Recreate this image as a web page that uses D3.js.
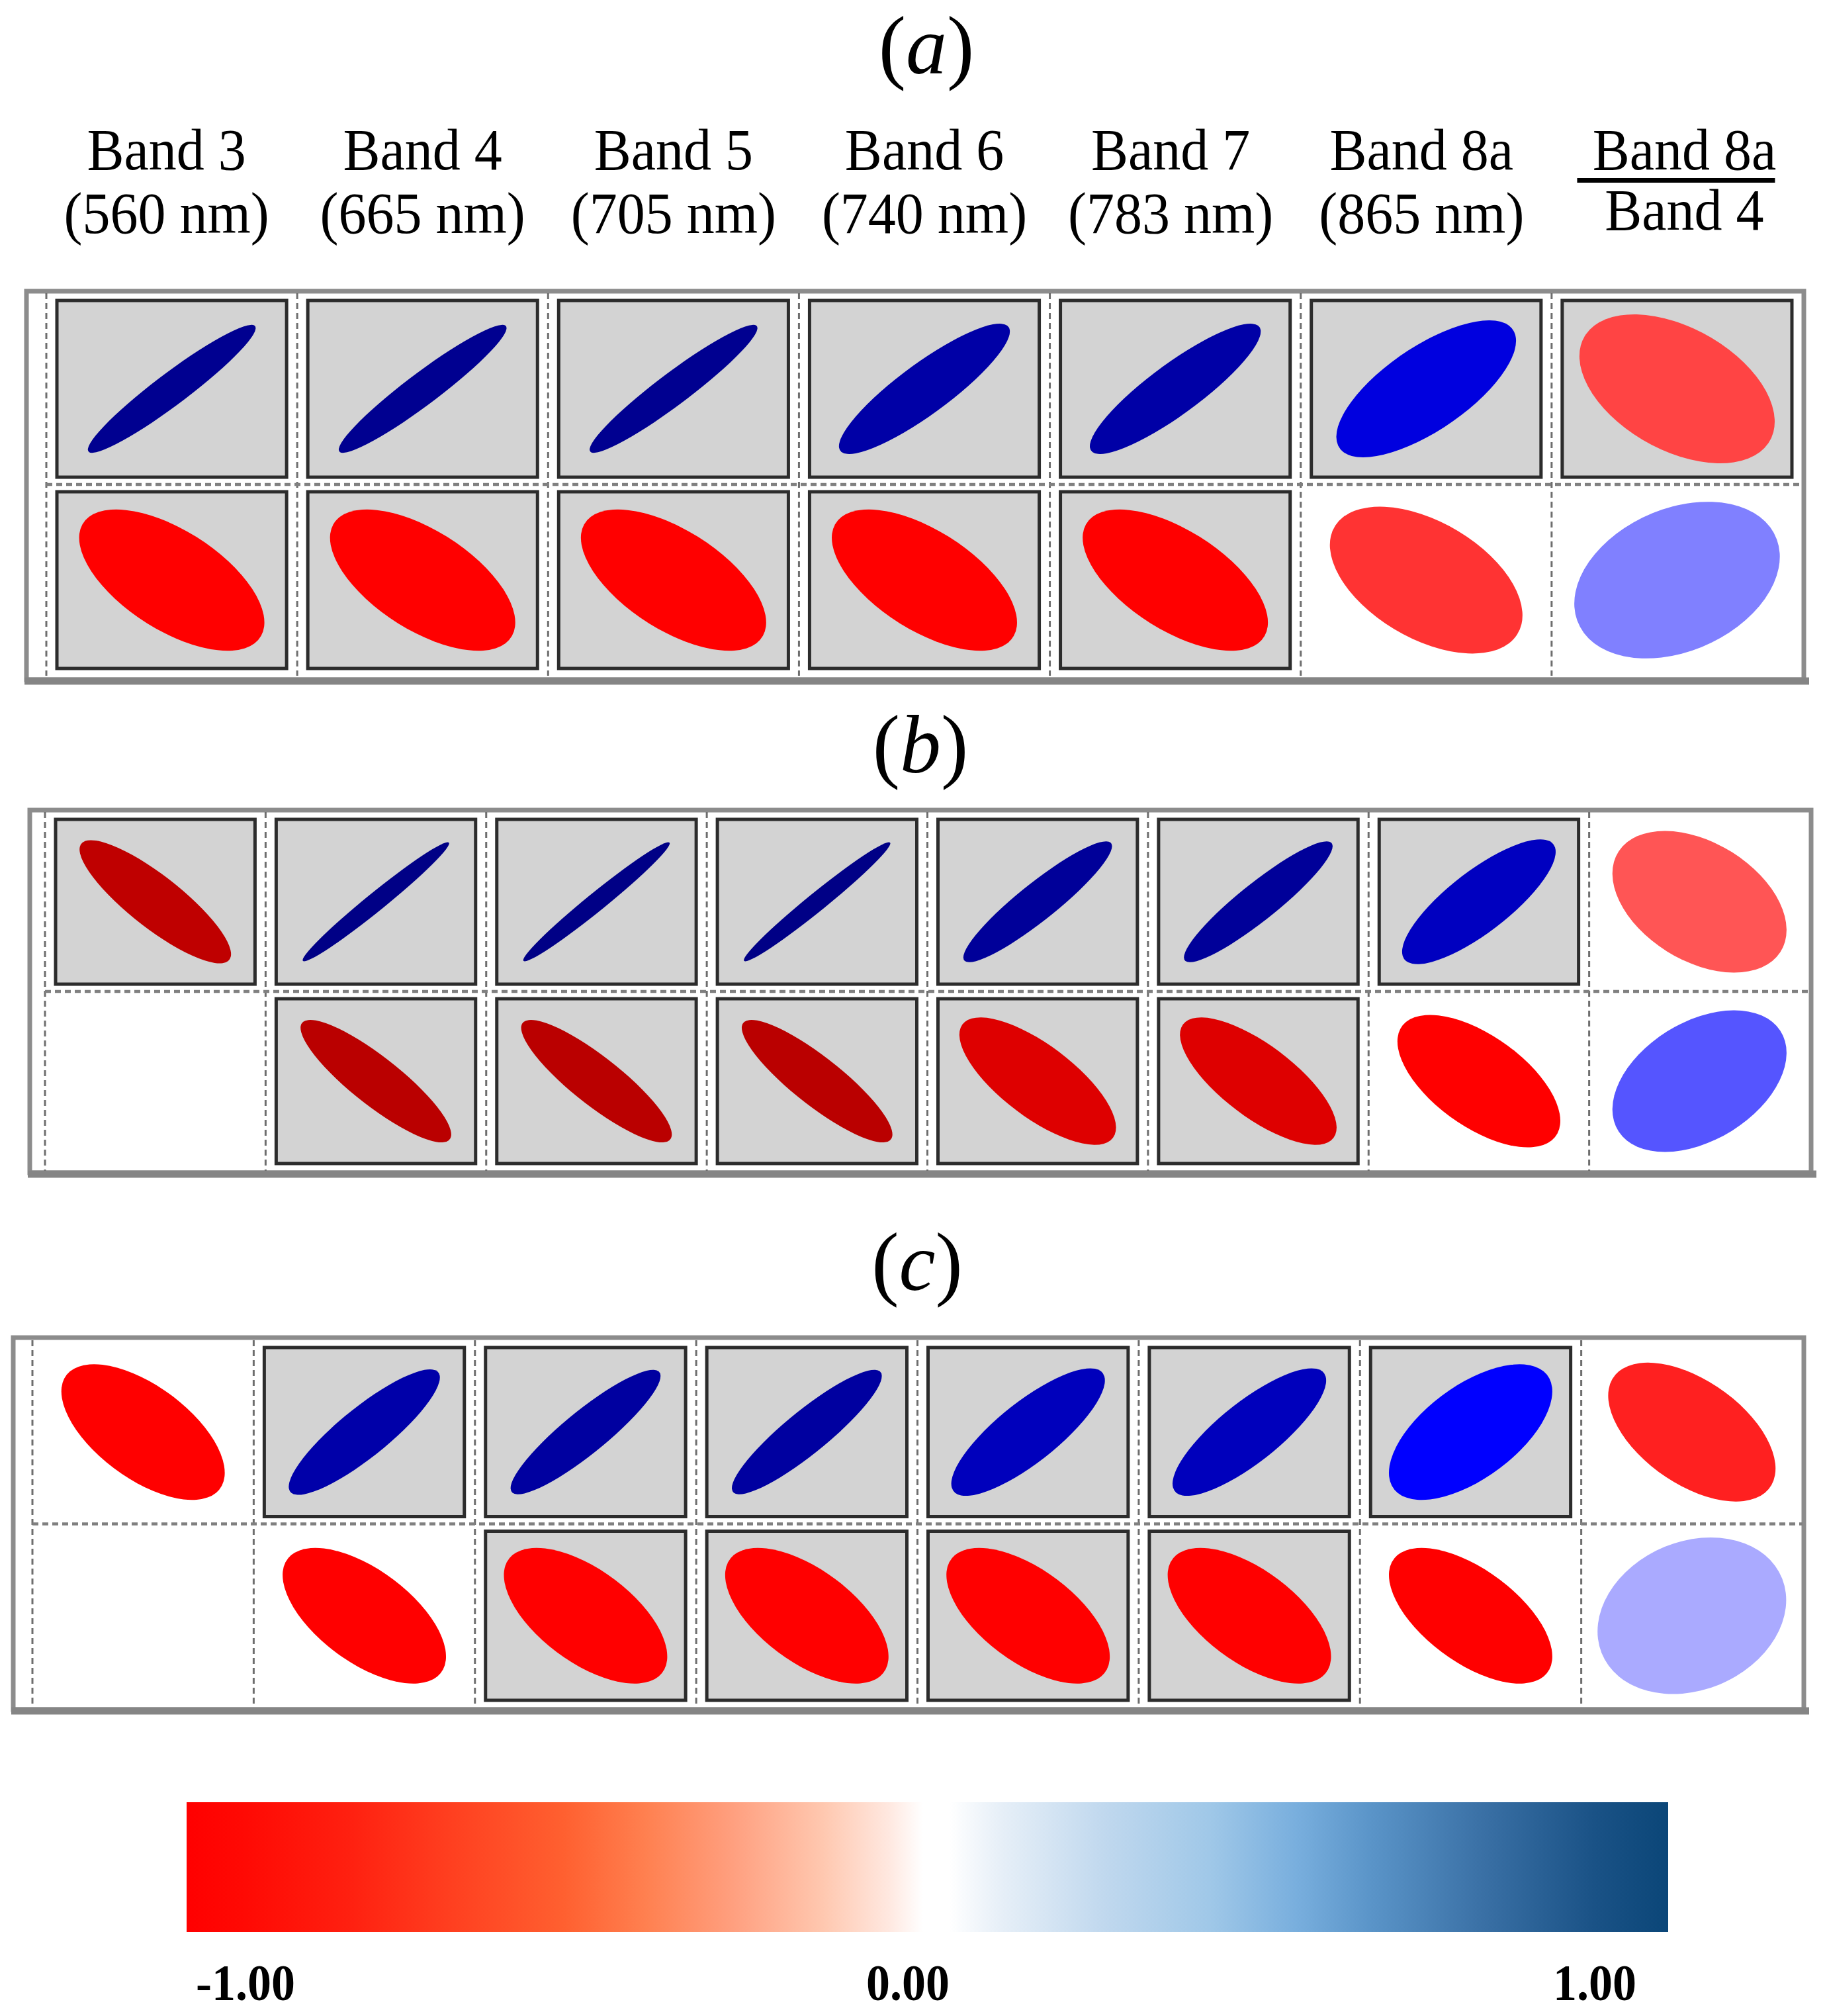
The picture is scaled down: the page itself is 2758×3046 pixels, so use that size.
<!DOCTYPE html>
<html><head><meta charset="utf-8">
<script src="https://cdn.jsdelivr.net/npm/d3@7"></script>
<style>body{margin:0;background:#fff}svg{display:block}</style>
</head><body>
<script>
// ---------------- DATA ----------------
const bandNames   = ["Band 3","Band 4","Band 5","Band 6","Band 7","Band 8a"];
const wavelengths = ["(560 nm)","(665 nm)","(705 nm)","(740 nm)","(783 nm)","(865 nm)"];
const ratioLabel  = ["Band 8a","Band 4"];
const panelLabels = ["a","b","c"];

const aRow1 = [0.95, 0.95, 0.95, 0.88, 0.88, 0.70, -0.44];
const aRow2 = [-0.60, -0.60, -0.60, -0.60, -0.60, -0.48, 0.30];
const bRow1 = [-0.85, 0.98, 0.98, 0.98, 0.92, 0.92, 0.80, -0.40];
const bRow2 = [null, -0.87, -0.87, -0.87, -0.73, -0.73, -0.60, 0.40];
const cRow1 = [-0.60, 0.87, 0.90, 0.90, 0.81, 0.81, 0.60, -0.525];
const cRow2 = [null, -0.60, -0.60, -0.60, -0.60, -0.60, -0.60, 0.20];

// significance flags (grey highlighted box)
const aSig1 = [1,1,1,1,1,1,1];
const aSig2 = [1,1,1,1,1,0,0];
const bSig1 = [1,1,1,1,1,1,1,0];
const bSig2 = [0,1,1,1,1,1,0,0];
const cSig1 = [0,1,1,1,1,1,1,0];
const cSig2 = [0,0,1,1,1,1,0,0];

const colorbarTicks = [-1, 0, 1];
const colorbarTickLabels = ["-1.00", "0.00", "1.00"];
const colorbarStopOffsets = [0, 0.04, 0.11, 0.18, 0.255, 0.31, 0.37, 0.43, 0.474, 0.497, 0.515, 0.547, 0.62, 0.69, 0.75, 0.80, 0.875, 0.95, 1];
const colorbarStopColors  = ["#ff0000","#ff0a04","#ff2010","#ff4020","#ff6030","#ff8050","#ffa080","#ffc8b0","#ffe8e0","#ffffff","#ffffff","#e8f0f8","#c0d8ee","#a0c8e8","#78aedd","#5a94c8","#3a70a5","#1a5286","#0b4678"];

// ---------------- SETUP ----------------
const W = 2758, H = 3046;
const FONT = "'Liberation Serif', 'Times New Roman', serif";
const svg = d3.select("body").append("svg").attr("width", W).attr("height", H);
svg.append("rect").attr("width", W).attr("height", H).attr("fill", "#fff");

const color = d3.scaleLinear()
  .domain([-1, -0.6, 0, 0.6, 1])
  .range(["#990000", "#ff0000", "#ffffff", "#0000ff", "#000080"])
  .interpolate(d3.interpolateRgb).clamp(true);

const A = 0.467; // semi-major axis, fraction of cell
const minorOf = r => A * Math.sqrt((1 - Math.abs(r)) / (1 + Math.abs(r)));

function drawPanel(cfg) {
  const g = svg.append("g");
  const n = cfg.rows[0].length;
  const x = d3.scaleBand().domain(d3.range(n)).range([cfg.grid[0], cfg.grid[2]]);
  const y = d3.scaleBand().domain([0, 1]).range([cfg.grid[1], cfg.grid[3]]);

  // outer frame
  g.append("rect")
    .attr("x", cfg.outer[0]).attr("y", cfg.outer[1])
    .attr("width", cfg.outer[2] - cfg.outer[0]).attr("height", cfg.outer[3] - cfg.outer[1])
    .attr("fill", "none").attr("stroke", "#8c8c8c").attr("stroke-width", 7);
  g.append("line")
    .attr("x1", cfg.outer[0] - 3).attr("x2", cfg.outer[2] + 8)
    .attr("y1", cfg.outer[3] + 2).attr("y2", cfg.outer[3] + 2)
    .attr("stroke", "#858585").attr("stroke-width", 11);

  // dashed grid lines
  g.selectAll("line.v").data(d3.range(n)).join("line").attr("class", "v")
    .attr("x1", d => x(d)).attr("x2", d => x(d))
    .attr("y1", cfg.grid[1]).attr("y2", cfg.grid[3])
    .attr("stroke", "#6e6e6e").attr("stroke-width", 3).attr("stroke-dasharray", "9,6");
  g.append("line")
    .attr("x1", cfg.grid[0]).attr("x2", cfg.grid[2])
    .attr("y1", y(1)).attr("y2", y(1))
    .attr("stroke", "#808080").attr("stroke-width", 4.5).attr("stroke-dasharray", "9,6");

  const cells = [];
  cfg.rows.forEach((row, ri) => row.forEach((r, ci) => cells.push({row: ri, col: ci, r, sig: cfg.sig[ri][ci]})));

  const ix = 16, iy = 11;
  g.selectAll("rect.box").data(cells.filter(d => d.sig)).join("rect").attr("class", "box")
    .attr("x", d => x(d.col) + ix).attr("y", d => y(d.row) + iy)
    .attr("width", x.bandwidth() - 2 * ix).attr("height", y.bandwidth() - 2 * iy)
    .attr("fill", "#d3d3d3").attr("stroke", "#2c2c2c").attr("stroke-width", 5);

  g.selectAll("ellipse").data(cells.filter(d => d.r !== null)).join("ellipse")
    .attr("transform", d => `translate(${x(d.col) + x.bandwidth() / 2},${y(d.row) + y.bandwidth() / 2}) scale(${x.bandwidth()},${y.bandwidth()}) rotate(${d.r >= 0 ? -45 : 45})`)
    .attr("rx", A).attr("ry", d => minorOf(d.r))
    .attr("fill", d => color(d.r));

  // panel title
  const t = svg.append("text").attr("x", cfg.titleX).attr("y", cfg.titleY)
    .attr("text-anchor", "middle").attr("font-family", FONT).attr("font-size", 124).attr("fill", "#000");
  t.append("tspan").text("(");
  t.append("tspan").attr("font-style", "italic").text(cfg.label);
  t.append("tspan").text(")");
  return {x, y};
}

const pa = drawPanel({rows: [aRow1, aRow2], sig: [aSig1, aSig2], outer: [40, 440, 2726, 1027], grid: [70, 443, 2724, 1021], label: panelLabels[0], titleX: 1400, titleY: 111});
drawPanel({rows: [bRow1, bRow2], sig: [bSig1, bSig2], outer: [45, 1224, 2737, 1772], grid: [68, 1227, 2735, 1769], label: panelLabels[1], titleX: 1391, titleY: 1167});
drawPanel({rows: [cRow1, cRow2], sig: [cSig1, cSig2], outer: [20, 2021, 2726, 2583], grid: [49, 2025, 2724, 2580], label: panelLabels[2], titleX: 1386, titleY: 1949});

// ---------------- HEADERS ----------------
const hdr = svg.append("g").attr("font-family", FONT).attr("font-size", 84).attr("fill", "#000").attr("text-anchor", "middle");
function hText(x, y, s) {
  hdr.append("text").attr("transform", `translate(${x},${y}) scale(1,1.07)`).text(s);
}
bandNames.forEach((b, i) => {
  const cx = pa.x(i) + pa.x.bandwidth() / 2 - (i === 0 ? 8 : i >= 4 ? 7 : 0);
  hText(cx, 256, b);
  hText(cx, 352, wavelengths[i]);
});
const rcx = pa.x(6) + pa.x.bandwidth() / 2 + 11;
hText(rcx, 256, ratioLabel[0]);
hdr.append("line").attr("x1", rcx - 162).attr("x2", rcx + 137).attr("y1", 272.5).attr("y2", 272.5)
  .attr("stroke", "#000").attr("stroke-width", 7);
hText(rcx, 347, ratioLabel[1]);

// ---------------- COLOUR BAR ----------------
const defs = svg.append("defs");
const grad = defs.append("linearGradient").attr("id", "cb").attr("x1", "0%").attr("x2", "100%").attr("y1", "0%").attr("y2", "0%");
grad.selectAll("stop").data(colorbarStopOffsets).join("stop")
  .attr("offset", d => d).attr("stop-color", (d, i) => colorbarStopColors[i]);
const cbX0 = 282, cbX1 = 2521, cbY0 = 2723, cbY1 = 2919;
svg.append("rect").attr("x", cbX0).attr("y", cbY0).attr("width", cbX1 - cbX0).attr("height", cbY1 - cbY0).attr("fill", "url(#cb)");

const cbScale = d3.scaleLinear().domain([-1, 0, 1]).range([371, 1372, 2410]);
const cbAxis = d3.axisBottom(cbScale).tickValues(colorbarTicks).tickSize(0)
  .tickFormat((d, i) => colorbarTickLabels[i]);
const ax = svg.append("g").call(cbAxis);
ax.select(".domain").remove();
ax.selectAll(".tick text")
  .attr("y", 0).attr("dy", null)
  .attr("font-family", FONT).attr("font-size", 72).attr("font-weight", "bold").attr("fill", "#000")
  .attr("transform", "translate(0,3022) scale(1,1.1)");
ax.selectAll(".tick").attr("transform", d => `translate(${cbScale(d)},0)`);
</script>
</body></html>
